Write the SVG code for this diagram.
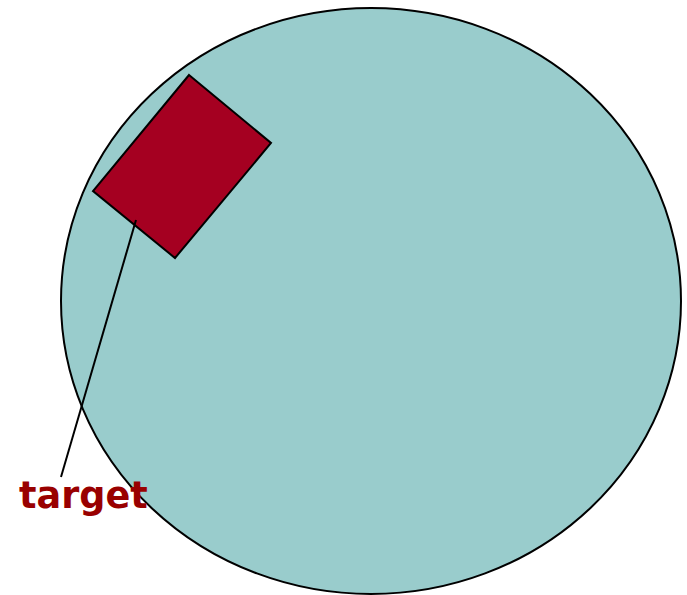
<svg xmlns="http://www.w3.org/2000/svg" width="687" height="595" viewBox="0 0 687 595">
<style>
.shape{stroke:#000;stroke-width:2}
.lbl{font-family:"DejaVu Sans",Verdana,sans-serif;font-weight:bold;font-size:36.6px;fill:#990000}
</style>
<rect width="687" height="595" fill="#fff"/>
<g id="circle"><ellipse class="shape" cx="371" cy="301" rx="310" ry="293" fill="#99CCCC"/></g>
<g id="target-rect"><polygon class="shape" points="189,75 271,143 175,258 93,191" fill="#A50021"/></g>
<g id="connectors"><line x1="136" y1="220" x2="61" y2="477" stroke="#000" stroke-width="2"/></g>
<g id="label"><text class="lbl" x="19" y="508">target</text></g>
</svg>
